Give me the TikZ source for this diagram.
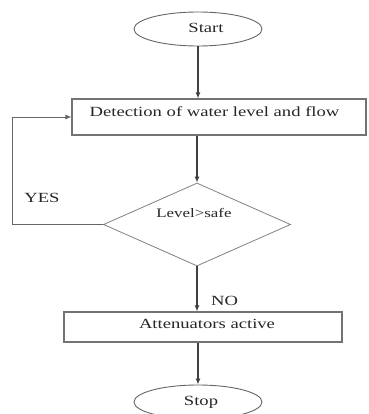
\documentclass[tikz,border=0pt]{standalone}
\usepackage{fontspec}
\usepackage{graphicx}
\setmainfont{Liberation Serif}
\usetikzlibrary{arrows.meta,shapes.geometric}
\tikzset{
  term/.style={draw=black!60, line width=0.9pt, ellipse, minimum width=128pt, minimum height=34pt, inner sep=0pt},
  procbox/.style={draw=black!55, line width=1.1pt, rectangle, inner sep=0pt},
  decision/.style={draw=black!50, line width=0.8pt, diamond, inner sep=0pt, minimum width=187pt, minimum height=83pt},
  flow/.style={draw=black!75, line width=1.4pt, -{Latex[length=6pt,width=5pt]}},
  back/.style={draw=black!60, line width=0.9pt, -{Latex[length=6pt,width=5pt]}},
  txt/.style={inner sep=0pt, font=\fontsize{14}{16}\selectfont, text=black!85},
  smalltxt/.style={inner sep=0pt, font=\fontsize{13}{15}\selectfont, text=black!85},
}
\newcommand{\wideA}[1]{\scalebox{1.33}[1]{#1}}
\newcommand{\wideB}[1]{\scalebox{1.3}[1]{#1}}
\begin{document}
\begin{tikzpicture}[x=1pt,y=-1pt]
\useasboundingbox (0,0) rectangle (368,414);
\node[term] (start) at (198,29) {};
\node[txt] (starttxt) at (206,28) {\wideA{Start}};
\node[procbox, minimum width=294pt, minimum height=36pt] (box1) at (219,117) {};
\node[txt] (box1txt) at (214.5,112) {\wideA{Detection of water level and flow}};
\node[decision] (dia) at (197,224.5) {};
\node[smalltxt] (diatxt) at (194,213) {\wideB{Level>safe}};
\node[procbox, minimum width=278pt, minimum height=30pt] (box2) at (203,327) {};
\node[txt] (box2txt) at (207,324) {\wideA{Attenuators active}};
\node[term] (stop) at (198,402) {};
\node[txt] (stoptxt) at (201,402) {\wideA{Stop}};
\node[txt] (yes) at (42,198) {\wideA{YES}};
\node[txt] (no) at (224.5,301) {\wideA{NO}};
\coordinate (fb) at (12,117);
\draw[flow] (start.south) -- (box1.north -| start.south);
\draw[flow] (box1.south -| dia.north) -- (dia.north);
\draw[flow] (dia.south) -- (box2.north -| dia.south);
\draw[flow] (box2.south -| stop.north) -- (stop.north);
\draw[back] (dia.west) -| (fb) -- (box1.west);
\end{tikzpicture}
\end{document}
